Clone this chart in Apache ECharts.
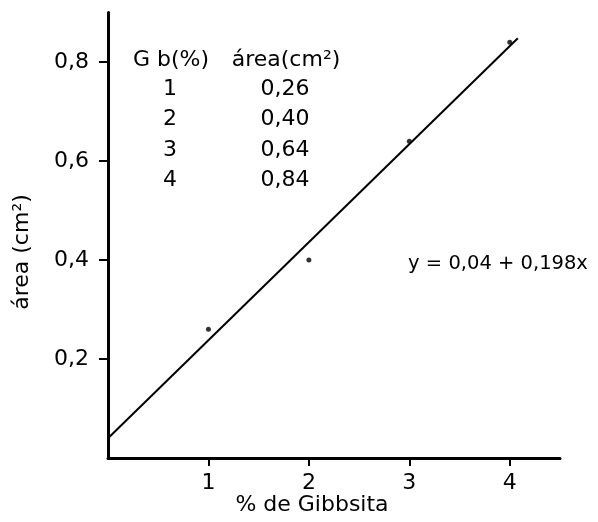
<!doctype html>
<html>
<head>
<meta charset="utf-8">
<title>área vs % de Gibbsita</title>
<script src="https://cdn.jsdelivr.net/npm/echarts@6/dist/echarts.min.js"></script>
<style>
  html, body { margin: 0; padding: 0; background: #fff; }
  #chart { width: 598px; height: 522px; }
</style>
</head>
<body>
<div id="chart"></div>
<script>
// data
const gibbsite = [1, 2, 3, 4];
const area = [0.26, 0.40, 0.64, 0.84];
const fitLineX = [0, 4.08];
const fitLineY = [0.04, 0.848];
const xTicks = [1, 2, 3, 4];
const yTicks = [0.2, 0.4, 0.6, 0.8];
const tableHeader = ['G b(%)', 'área(cm²)'];
const tableCol1 = ['1', '2', '3', '4'];
const tableCol2 = ['0,26', '0,40', '0,64', '0,84'];
const equation = 'y = 0,04 + 0,198x';
const xName = '% de Gibbsita';
const yName = 'área (cm²)';

const FONT = '"DejaVu Sans", sans-serif';
const comma = v => String(Math.round(v * 10) / 10).replace('.', ',');

const chart = echarts.init(document.getElementById('chart'), null, { renderer: 'canvas' });

const txt = (text, x, y, size, extra) => Object.assign({
  type: 'text', x: x, y: y,
  style: { text: text, font: size + 'px ' + FONT, fill: '#000', textAlign: 'center', textVerticalAlign: 'middle' }
}, extra || {});

// table in the upper left corner, equation, axis names
const labels = [];
labels.push(txt(tableHeader[0], 171, 60, 22));
labels.push(txt(tableHeader[1], 286, 60, 22));
tableCol1.forEach((t, i) => {
  labels.push(txt(t, 170, 89 + i * 30.5, 22));
  labels.push(txt(tableCol2[i], 285, 89 + i * 30.5, 22));
});
labels.push(txt(equation, 498, 264, 19.5));
labels.push(txt(xName, 312, 505, 22));
labels.push(txt(yName, 22, 252, 22, { rotation: Math.PI / 2 }));

const option = {
  backgroundColor: '#fff',
  animation: false,
  grid: { left: 108, right: 38, top: 12.5, bottom: 64 },
  xAxis: {
    type: 'value', min: 0, max: 4.5,
    axisLine: { show: true, onZero: false, lineStyle: { color: '#000', width: 3 } },
    axisTick: { show: true, length: 8, lineStyle: { color: '#000', width: 2 }, customValues: xTicks },
    axisLabel: { margin: 14, fontFamily: FONT, fontSize: 22, color: '#000', customValues: xTicks, formatter: v => String(v) },
    splitLine: { show: false }
  },
  yAxis: {
    type: 'value', min: 0, max: 0.9,
    axisLine: { show: true, onZero: false, lineStyle: { color: '#000', width: 3 } },
    axisTick: { show: true, length: 9, lineStyle: { color: '#000', width: 2 }, customValues: yTicks },
    axisLabel: { margin: 19, fontFamily: FONT, fontSize: 22, color: '#000', customValues: yTicks, formatter: comma },
    splitLine: { show: false }
  },
  series: [
    {
      type: 'line',
      data: fitLineX.map((x, i) => [x, fitLineY[i]]),
      showSymbol: false,
      lineStyle: { color: '#000', width: 2 },
      silent: true
    },
    {
      type: 'scatter',
      data: gibbsite.map((x, i) => [x, area[i]]),
      symbol: 'circle', symbolSize: 5,
      itemStyle: { color: '#000' }
    }
  ],
  graphic: labels
};

chart.setOption(option);
</script>
</body>
</html>
